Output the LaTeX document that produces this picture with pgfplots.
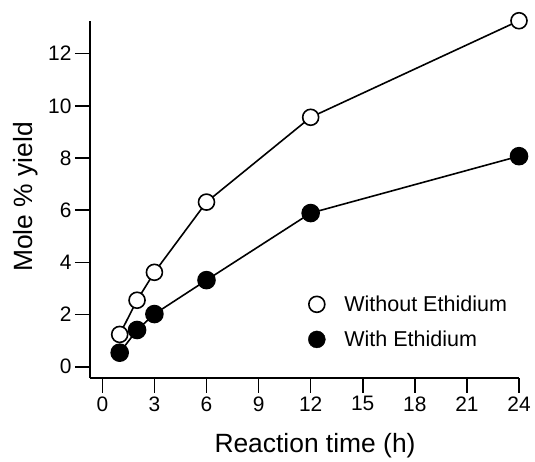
\documentclass[border=0pt]{standalone}
\usepackage{pgfplots}
\pgfplotsset{compat=1.18}
\usepackage{pgfplotstable}
\usepackage{fontspec}
\setmainfont{Liberation Sans}
\pgfplotstableread{
t y
1 1.24
2 2.55
3 3.62
6 6.31
12 9.56
24 13.26
}\without
\pgfplotstableread{
t y
1 0.54
2 1.41
3 2.02
6 3.32
12 5.89
24 8.07
}\withE
\begin{document}
\begin{tikzpicture}
\begin{axis}[
 scale only axis, width=429bp, height=357bp,
 xmin=-0.71, xmax=24, ymin=-0.43, ymax=13.25,
 axis lines=left, axis line style={-, line width=1.6bp},
 xtick={0,3,...,24}, ytick={0,2,...,12},
 tick align=outside, major tick length=15bp,
 tick style={line width=1.6bp, black},
 /pgf/number format/assume math mode=true,
 tick label style={font=\fontsize{21}{24}\selectfont},
 label style={font=\fontsize{26.5}{30}\selectfont},
 xlabel={Reaction time (h)}, ylabel={Mole \% yield},
 xlabel style={at={(rel axis cs:0.5245,-0.210)}, anchor=base},
 ylabel style={at={(rel axis cs:-0.135,0.507)}, anchor=base},
 clip=false,
 legend style={draw=none, fill=none, font=\fontsize{21.6}{26}\selectfont,
   at={(rel axis cs:0.5015,0.242)}, anchor=north west, row sep=14bp,
   /tikz/every odd column/.append style={column sep=17bp}},
 legend cell align=left,
]
\addlegendimage{only marks, mark=*, mark size=8bp, mark options={fill=white, draw=black, line width=1.6bp}}
\addlegendentry{Without Ethidium}
\addlegendimage{only marks, mark=*, mark size=8.5bp, mark options={fill=black, draw=black}}
\addlegendentry{With Ethidium}
\addplot[forget plot, black, line width=1.6bp, mark=*, mark size=8bp, mark options={fill=white, draw=black, line width=1.6bp}] table[x=t,y=y] {\without};
\addplot[forget plot, black, line width=1.6bp, mark=*, mark size=8.5bp, mark options={fill=black, draw=black}] table[x=t,y=y] {\withE};
\path (rel axis cs:-0.2098,-0.2353) rectangle (rel axis cs:1.0373,1.0588);
\end{axis}
\end{tikzpicture}
\end{document}
